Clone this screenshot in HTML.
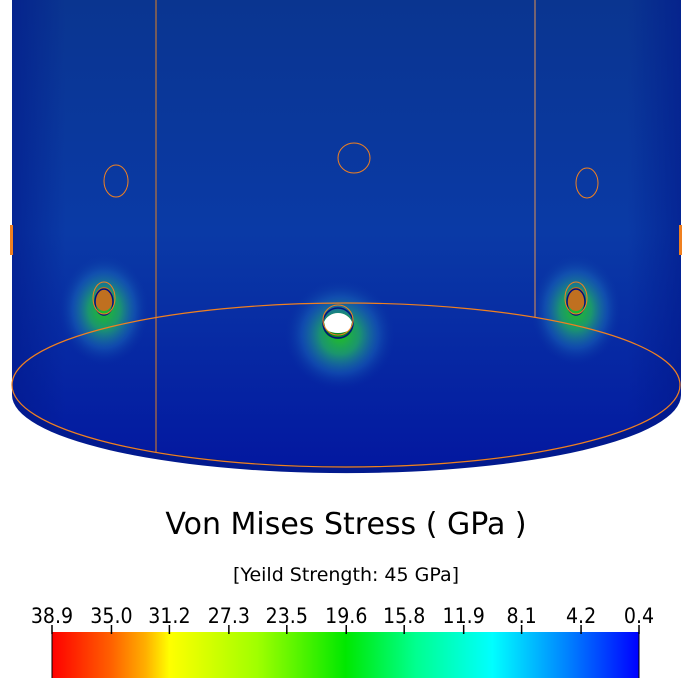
<!DOCTYPE html>
<html><head><meta charset="utf-8"><style>
html,body{margin:0;padding:0;background:#fff;width:692px;height:692px;overflow:hidden}
svg{display:block;font-family:"DejaVu Sans","Liberation Sans",sans-serif}
</style></head><body>
<svg id="chart" width="692" height="692" viewBox="0 0 692 692">
<defs>
<linearGradient id="bodyG" x1="0" y1="0" x2="0" y2="1">
<stop offset="0" stop-color="#0a3590"/><stop offset="0.5" stop-color="#0a3aa6"/><stop offset="1" stop-color="#0318a0"/>
</linearGradient>
<linearGradient id="sideG" x1="0" y1="0" x2="1" y2="0">
<stop offset="0" stop-color="#02188a" stop-opacity="0.6"/><stop offset="0.08" stop-color="#02188a" stop-opacity="0"/>
<stop offset="0.92" stop-color="#02188a" stop-opacity="0"/><stop offset="1" stop-color="#02188a" stop-opacity="0.6"/>
</linearGradient>
<radialGradient id="hot">
<stop offset="0" stop-color="#20c020"/><stop offset="0.35" stop-color="#20b060" stop-opacity="0.8"/><stop offset="0.7" stop-color="#2080c0" stop-opacity="0.35"/><stop offset="1" stop-color="#0a3aa6" stop-opacity="0"/>
</radialGradient>
<linearGradient id="cbar" x1="0" y1="0" x2="1" y2="0">
<stop offset="0" stop-color="#ff0000"/><stop offset="0.1" stop-color="#ff6000"/><stop offset="0.16" stop-color="#ffb000"/>
<stop offset="0.2" stop-color="#ffff00"/><stop offset="0.35" stop-color="#a0ff00"/><stop offset="0.5" stop-color="#00e800"/>
<stop offset="0.62" stop-color="#00ff90"/><stop offset="0.75" stop-color="#00ffff"/><stop offset="0.88" stop-color="#0080ff"/><stop offset="1" stop-color="#0000ff"/>
</linearGradient>
</defs>
<g>
<path d="M12 0 H681 V395 A334 78 0 0 1 12 395 Z" fill="#021a8e"/>
<path d="M12 0 H681 V387 A334 78 0 0 1 12 387 Z" fill="url(#bodyG)"/>
<path d="M12 0 H681 V387 A334 78 0 0 1 12 387 Z" fill="url(#sideG)"/>
<ellipse cx="104" cy="310" rx="45" ry="55" fill="url(#hot)"/>
<ellipse cx="340" cy="335" rx="55" ry="55" fill="url(#hot)"/>
<ellipse cx="576" cy="310" rx="45" ry="55" fill="url(#hot)"/>
<ellipse cx="104" cy="299" rx="9" ry="12" fill="#c07020"/>
<ellipse cx="576" cy="299" rx="9" ry="12" fill="#c07020"/>
<ellipse cx="104" cy="302" rx="9" ry="13" fill="none" stroke="#001080" stroke-width="1.5"/>
<ellipse cx="576" cy="302" rx="9" ry="13" fill="none" stroke="#001080" stroke-width="1.5"/>
<ellipse cx="104" cy="298" rx="11" ry="16" fill="none" stroke="#f08020" stroke-width="1"/>
<ellipse cx="576" cy="298" rx="11" ry="16" fill="none" stroke="#f08020" stroke-width="1"/>
<ellipse cx="338" cy="326" rx="15" ry="13" fill="#0a8a20"/>
<ellipse cx="338" cy="323" rx="15" ry="15" fill="none" stroke="#001080" stroke-width="1.5"/>
<path d="M324 322 A15 14 0 0 1 352 322 L350 330 Q338 336 326 330 Z" fill="#fff"/>
<ellipse cx="338" cy="320" rx="15" ry="15" fill="none" stroke="#f08020" stroke-width="1"/>
<line x1="156" y1="0" x2="156" y2="452" stroke="#e08020" stroke-width="1"/>
<line x1="535" y1="0" x2="535" y2="318" stroke="#e09050" stroke-width="1"/>
<ellipse cx="346" cy="385" rx="334" ry="82" fill="none" stroke="#f08020" stroke-width="1.2"/>
<ellipse cx="116" cy="181" rx="12" ry="16" fill="none" stroke="#f08020" stroke-width="1"/>
<ellipse cx="354" cy="158" rx="16" ry="15" fill="none" stroke="#f08020" stroke-width="1"/>
<ellipse cx="587" cy="183" rx="11" ry="15" fill="none" stroke="#f08020" stroke-width="1"/>
<rect x="10" y="225" width="3" height="30" fill="#f08020"/>
<rect x="679" y="225" width="3" height="30" fill="#f08020"/>
</g>
<text x="346" y="534" text-anchor="middle" font-size="30" fill="#000">Von Mises Stress ( GPa )</text>
<text x="346" y="581" text-anchor="middle" font-size="19" fill="#000">[Yeild Strength: 45 GPa]</text>
<rect x="52" y="632" width="587" height="46" fill="url(#cbar)"/>
<line x1="52" y1="632" x2="52" y2="678" stroke="#000" stroke-width="1"/>
<line x1="639" y1="632" x2="639" y2="678" stroke="#000" stroke-width="1"/>
<g id="ticks"></g>
</svg>
<script>
const tickLabels = ["38.9","35.0","31.2","27.3","23.5","19.6","15.8","11.9","8.1","4.2","0.4"];
const tickValues = [38.9,35.0,31.2,27.3,23.5,19.6,15.8,11.9,8.1,4.2,0.4];
const vmin = 0.4, vmax = 38.9;
function xScale(v){ return 52 + (vmax - v) / (vmax - vmin) * 587; }
const g = document.getElementById('ticks');
const ns = 'http://www.w3.org/2000/svg';
tickValues.forEach((v,i)=>{
  const x = xScale(v);
  const l = document.createElementNS(ns,'line');
  l.setAttribute('x1',x);l.setAttribute('x2',x);l.setAttribute('y1',625);l.setAttribute('y2',634);
  l.setAttribute('stroke','#000');l.setAttribute('stroke-width','1.5');
  
  
  g.appendChild(l);
  const t = document.createElementNS(ns,'text');
  t.setAttribute('x',x);t.setAttribute('y',623);t.setAttribute('text-anchor','middle');
  t.setAttribute('font-size','19');
  t.setAttribute('transform','translate(0,623) scale(1,1.1) translate(0,-623)');
  t.textContent = tickLabels[i];
  
  
  g.appendChild(t);
});
</script>
</body></html>
